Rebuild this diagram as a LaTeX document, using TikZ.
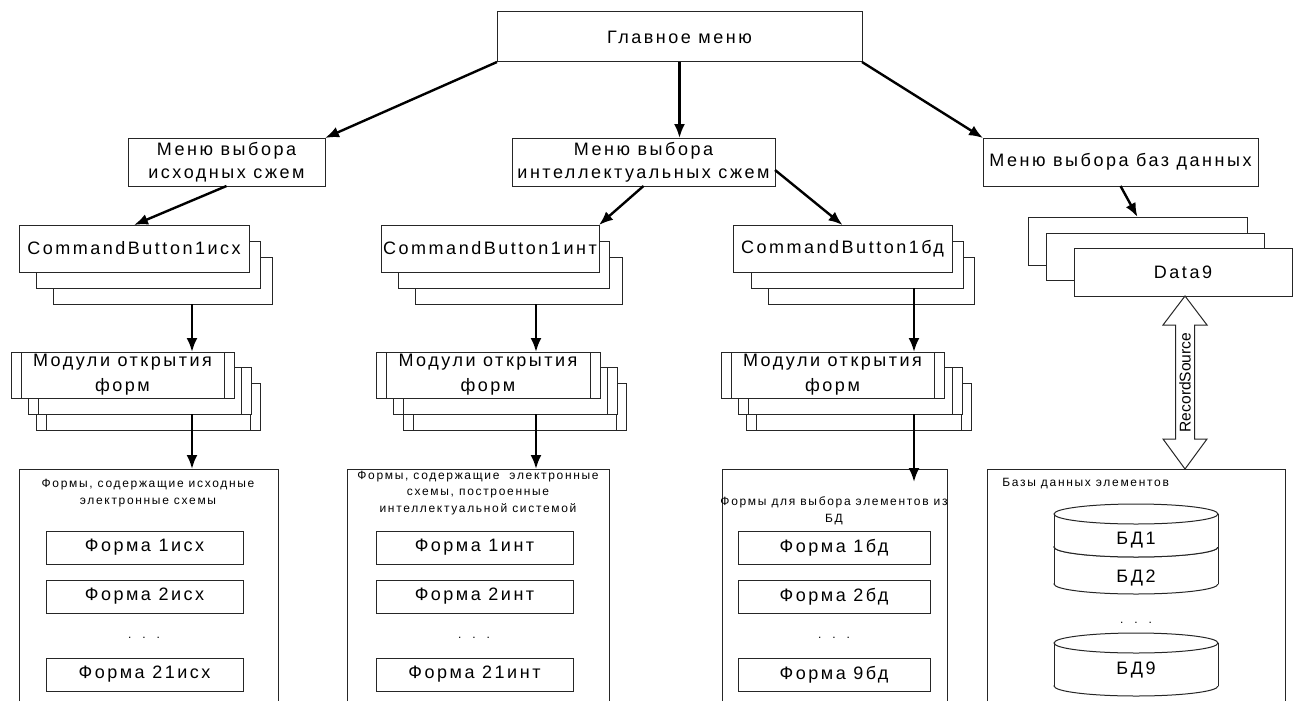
\documentclass[tikz,border=0pt]{standalone}
\usepackage{fontspec}
\setmainfont{Liberation Sans}
\newfontfamily\spaced{Liberation Sans}[LetterSpace=14]
\usetikzlibrary{arrows.meta,calc}

% database drum: name, centre x, top y, bottom y, label y, label
\newcommand{\dbdrum}[6]{%
  \draw[thinline, fill=white] (#2,#4) ellipse [x radius=82, y radius=10];
  \fill[white] (#2-82,#3) rectangle (#2+82,#4);
  \draw[thinline] (#2-82,#3) -- (#2-82,#4) (#2+82,#3) -- (#2+82,#4);
  \draw[thinline, fill=white] (#2,#3) ellipse [x radius=82, y radius=10];
  \node[dbtext] (#1) at (#2,#5) {#6};
}

\begin{document}
\begin{tikzpicture}[x=0.5pt,y=-0.5pt,
  corners/.style n args={4}{at={({(#1+#3)/2},{(#2+#4)/2})},
    minimum width={(#3-#1)*0.5pt}, minimum height={(#4-#2)*0.5pt}},
  thinline/.style={draw=black!85, line width=0.5pt},
  frame/.style={thinline, fill=white, inner sep=0pt, outer sep=0pt, align=center,
    font=\spaced\fontsize{9}{11.5}\selectfont},
  modframe/.style={frame, font=\spaced\fontsize{9}{12.5}\selectfont,
    path picture={\draw[thinline]
      ([xshift=5pt]path picture bounding box.north west) -- ([xshift=5pt]path picture bounding box.south west)
      ([xshift=-5pt]path picture bounding box.north east) -- ([xshift=-5pt]path picture bounding box.south east);}},
  group/.style={inner sep=0pt, outer sep=0pt},
  title/.style={inner sep=0pt, align=center, font=\spaced\fontsize{6}{8.3}\selectfont},
  dbtext/.style={inner sep=0pt, font=\spaced\fontsize{9}{11}\selectfont},
  dots/.style={inner sep=0pt, font=\fontsize{6}{6}\selectfont},
  arr/.style={-{Latex[length=7pt,width=5.5pt]}, line width=1.2pt}]

  \useasboundingbox (0,0) rectangle (1294,701);

  % main menu
  \node[frame, corners={497}{12}{862}{62}] (main) {Главное меню};

  % second level menus
  \node[frame, corners={128}{138}{325}{186}] (menuSrc) {Меню выбора\\исходных сжем};
  \node[frame, corners={512}{138}{775}{186}] (menuInt) {Меню выбора\\интеллектуальных сжем};
  \node[frame, corners={983}{138}{1258}{186}] (menuDb) {Меню выбора баз данных};

  % command buttons
  \node[frame, corners={53}{257}{272}{304}] (cbSrcB) {};
  \node[frame, corners={36}{241}{260}{288}] (cbSrcA) {};
  \node[frame, corners={19}{225}{249}{272}] (cbSrc) {CommandButton1исх};

  \node[frame, corners={415}{257}{622}{304}] (cbIntB) {};
  \node[frame, corners={398}{241}{609}{288}] (cbIntA) {};
  \node[frame, corners={381}{225}{599}{272}] (cbInt) {CommandButton1инт};

  \node[frame, corners={768}{257}{974}{304}] (cbDbB) {};
  \node[frame, corners={751}{241}{963}{288}] (cbDbA) {};
  \node[frame, corners={733}{225}{952}{272}] (cbDb) {CommandButton1бд};

  % data controls
  \node[frame, corners={1028}{217}{1247}{265}] (dataA) {};
  \node[frame, corners={1046}{233}{1264}{280}] (dataB) {};
  \node[frame, corners={1074}{248}{1292}{296}] (data9) {Data9};

  % form opening modules
  \node[modframe, corners={36}{383}{260}{430}] (modSrcB) {};
  \node[modframe, corners={28}{367}{251}{414}] (modSrcA) {};
  \node[modframe, corners={11}{352}{234}{398}] (modSrc) {Модули открытия\\форм};

  \node[modframe, corners={403}{383}{626}{430}] (modIntB) {};
  \node[modframe, corners={393}{367}{617}{414}] (modIntA) {};
  \node[modframe, corners={376}{352}{600}{398}] (modInt) {Модули открытия\\форм};

  \node[modframe, corners={746}{383}{971}{430}] (modDbB) {};
  \node[modframe, corners={738}{367}{962}{414}] (modDbA) {};
  \node[modframe, corners={721}{352}{944}{398}] (modDb) {Модули открытия\\форм};

  % groups of forms (open at the bottom)
  \node[group, corners={19}{469}{278}{701}] (frmSrc) {};
  \node[group, corners={347}{469}{609}{701}] (frmInt) {};
  \node[group, corners={722}{469}{947}{701}] (frmDb) {};
  \node[group, corners={987}{469}{1285}{701}] (dbs) {};
  \foreach \g in {frmSrc,frmInt,frmDb,dbs}
    \draw[thinline] (\g.south west) |- (\g.north east) -- (\g.south east);

  \node[title] (tSrc) at (148,493) {Формы, содержащие исходные\\электронные схемы};
  \node[title] (tInt) at (478,493) {Формы, содержащие\ \ электронные\\схемы, построенные\\интеллектуальной системой};
  \node[title] (tDb) at (834,511) {Формы для выбора элементов из\\БД};
  \node[title, anchor=west] (tDbs) at (1002,484) {Базы данных элементов};

  \node[frame, corners={46}{531}{243}{564}] (f1Src) {Форма 1исх};
  \node[frame, corners={46}{580}{243}{613}] (f2Src) {Форма 2исх};
  \node[dots] (dSrc) at (144,638) {.\hspace{5.5pt}.\hspace{5.5pt}.};
  \node[frame, corners={46}{658}{243}{691}] (f21Src) {Форма 21исх};

  \node[frame, corners={376}{531}{573}{564}] (f1Int) {Форма 1инт};
  \node[frame, corners={376}{580}{573}{613}] (f2Int) {Форма 2инт};
  \node[dots] (dInt) at (474,638) {.\hspace{5.5pt}.\hspace{5.5pt}.};
  \node[frame, corners={376}{658}{573}{691}] (f21Int) {Форма 21инт};

  \node[frame, corners={738}{531}{930}{564}] (f1Db) {Форма 1бд};
  \node[frame, corners={738}{580}{930}{613}] (f2Db) {Форма 2бд};
  \node[dots] (dDb) at (834,638) {.\hspace{5.5pt}.\hspace{5.5pt}.};
  \node[frame, corners={738}{658}{930}{691}] (f9Db) {Форма 9бд};

  % databases
  \dbdrum{bd2}{1136}{547}{584}{578}{БД2}
  \dbdrum{bd1}{1136}{514}{547}{540}{БД1}
  \node[dots] (dBd) at (1136,623) {.\hspace{5.5pt}.\hspace{5.5pt}.};
  \dbdrum{bd9}{1136}{643}{686}{670}{БД9}

  % arrows
  \coordinate (colSrc) at (192,0);
  \coordinate (colInt) at (536,0);
  \coordinate (colDb) at (914,0);

  \draw[arr] (main.south west) -- (menuSrc.north east);
  \draw[arr] (main.south) -- (main.south |- menuInt.north);
  \draw[arr] (main.south east) -- (menuDb.north west);

  \draw[arr] (menuSrc.south) -- (cbSrc.north);
  \draw[arr] (menuInt.south) -- (cbInt.north east);
  \draw[arr] ([yshift=-4pt]menuInt.east) -- (cbDb.north);
  \draw[arr] (menuDb.south) -- (dataA.north);

  \draw[arr] (cbSrcB.south -| colSrc) -- (modSrc.north -| colSrc);
  \draw[arr] (cbIntB.south -| colInt) -- (modInt.north -| colInt);
  \draw[arr] (cbDbA.south -| colDb) -- (modDb.north -| colDb);

  \draw[arr] (modSrcA.south -| colSrc) -- (frmSrc.north -| colSrc);
  \draw[arr] (modIntA.south -| colInt) -- (frmInt.north -| colInt);
  \draw[arr] (modDbA.south -| colDb) -- ($(frmDb.north -| colDb)+(0,13)$);

  % RecordSource link
  \coordinate (rsTop) at ($(data9.south)+(2,0)$);
  \coordinate (rsBot) at (rsTop |- dbs.north);
  \draw[thinline, fill=white] (rsTop) -- ($(rsTop)+(22,29)$) -- ($(rsTop)+(9.5,29)$)
    -- ($(rsBot)+(9.5,-30)$) -- ($(rsBot)+(22,-30)$) -- (rsBot)
    -- ($(rsBot)+(-22,-30)$) -- ($(rsBot)+(-9.5,-30)$)
    -- ($(rsTop)+(-9.5,29)$) -- ($(rsTop)+(-22,29)$) -- cycle;
  \node[inner sep=0pt, rotate=90, font=\fontsize{7.8}{8}\selectfont] (rs) at ($(rsTop)!0.5!(rsBot)$) {RecordSource};
\end{tikzpicture}
\end{document}
